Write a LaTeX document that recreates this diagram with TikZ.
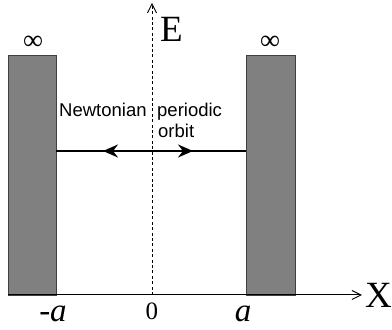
\documentclass[tikz,border=0pt]{standalone}
\usepackage{fontspec}
\setsansfont{Liberation Sans}
\newfontfamily\timesfont{Liberation Serif}
\usetikzlibrary{arrows.meta}
\usetikzlibrary{positioning,calc}
\tikzset{
	>={Straight Barb[length=9pt,width=9pt]},
	wall/.style={draw=black!75, fill=black!50, line width=0.8pt, inner sep=0pt, outer sep=0pt},
	axis/.style={black, line width=1pt, ->},
	eaxis/.style={black, line width=0.8pt, dash pattern=on 3pt off 2.4pt, ->},
	orbit/.style={black, line width=2pt},
	orbitarrow/.style={black, line width=2pt, -{Stealth[length=15pt,width=13pt,inset=5pt]}},
	axislabel/.style={font=\timesfont\fontsize{37}{40}\selectfont, inner sep=0pt, anchor=base west},
	ticklabel/.style={font=\timesfont\itshape\fontsize{33}{38}\selectfont, inner sep=0pt, anchor=base},
	inflabel/.style={font=\timesfont\fontsize{28}{30}\selectfont, inner sep=0pt},
	note/.style={font=\sffamily\fontsize{18.5}{21}\selectfont, inner sep=0pt, anchor=base west}
}
\begin{document}
\begin{tikzpicture}[x=1pt, y=1pt, line cap=butt, line join=miter]
	\useasboundingbox (0,0) rectangle (392,330);
	
	% Infinite walls
	\node[wall, minimum width=48pt, minimum height=240pt, anchor=south west] (lwall) at (8,35) {};
	\node[wall, minimum width=49pt, minimum height=240pt, anchor=south west] (rwall) at (246,35) {};
	\node[inflabel] (linf) at (33,287) {∞};
	\node[inflabel] (rinf) at (270,287) {∞};
	
	% Axes
	\coordinate (O) at (152,35);
	\coordinate (xend) at (362,35);
	\coordinate (eend) at (152,327);
	\draw[axis] (lwall.south west) -- (xend);
	\draw[eaxis] (O) -- (eend);
	\node[axislabel] (X) at (365,22) {X};
	\node[axislabel] (E) at (160,288) {E};
	
	% Tick labels
	\node[ticklabel] (ma) at (53,8) {-a};
	\node[ticklabel, font=\timesfont\fontsize{25}{28}\selectfont] (zero) at (152,10) {0};
	\node[ticklabel] (pa) at (243,8) {a};
	
	% Periodic orbit between the walls
	\coordinate (oleft) at ($(lwall.south east)+(0,144)$);
	\coordinate (oright) at ($(rwall.south west)+(0,144)$);
	\coordinate (omid) at (O |- oleft);
	\draw[orbit] (oleft) -- (oright);
	\draw[orbitarrow] (omid) -- ++(-49,0);
	\draw[orbitarrow] (omid) -- ++(41,0);
	
	% Labels
	\node[note] (newton) at (59,213) {Newtonian};
	\node[note] (periodic) at (157,213) {periodic};
	\node[note] (orb) at ([xshift=1pt,yshift=-21pt]periodic.base west) {orbit};
	
\end{tikzpicture}
\end{document}
